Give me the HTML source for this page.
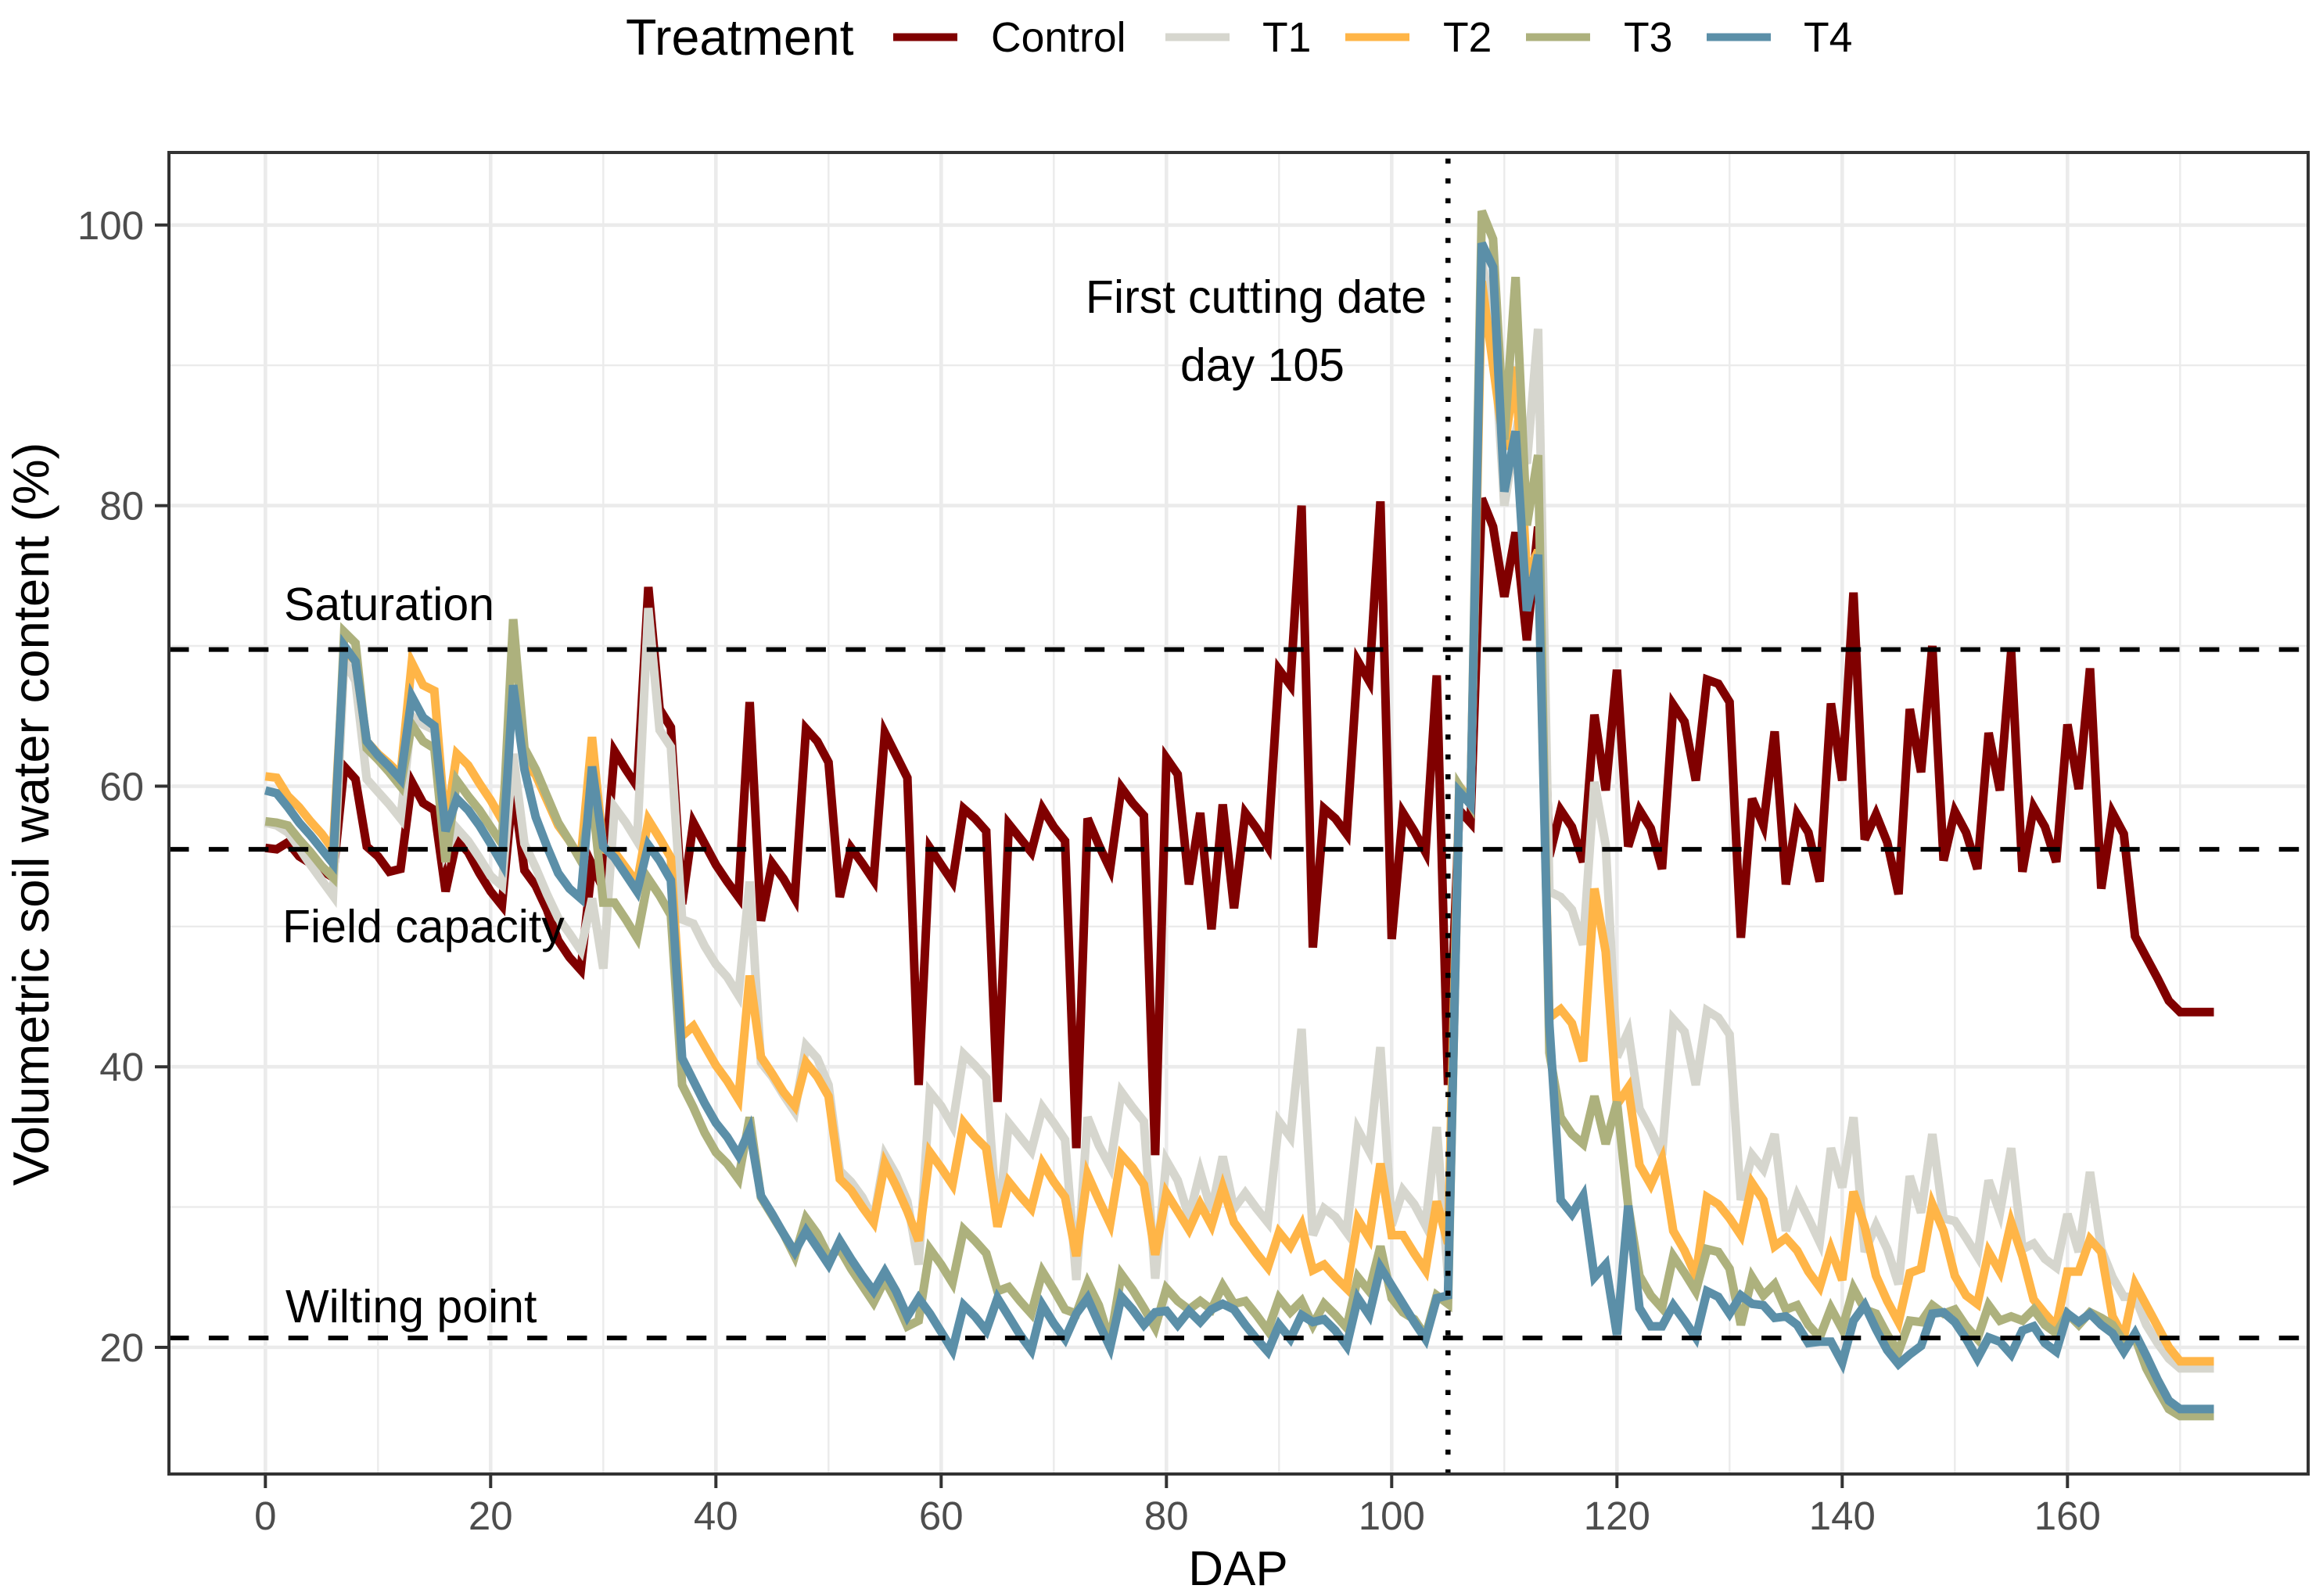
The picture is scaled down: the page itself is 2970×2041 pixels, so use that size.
<!DOCTYPE html>
<html lang="en">
<head>
<meta charset="utf-8">
<title>Volumetric soil water content by treatment</title>
<style>
  html, body { margin: 0; padding: 0; background: #ffffff; }
  svg { display: block; font-family: "Liberation Sans", Arial, sans-serif; }
</style>
</head>
<body>
<svg id="chart" xmlns="http://www.w3.org/2000/svg" width="2970" height="2041" viewBox="0 0 2970 2041">
  <rect x="0" y="0" width="2970" height="2041" fill="#ffffff"/>
  <g id="grid"></g>
  <g id="series"></g>
  <g id="refs"></g>
  <rect x="216" y="195" width="2735" height="1690" fill="none" stroke="#333333" stroke-width="4"/>
  <g id="ticks"></g>
  <text x="1583" y="2027" font-size="62" text-anchor="middle" fill="#000">DAP</text>
  <text transform="translate(62,1041) rotate(-90)" font-size="65.3" text-anchor="middle" fill="#000">Volumetric soil water content (%)</text>
  <text x="363" y="793" font-size="59" fill="#000">Saturation</text>
  <text x="361" y="1205" font-size="59" fill="#000">Field capacity</text>
  <text x="365" y="1691" font-size="59" fill="#000">Wilting point</text>
  <text x="1606" y="400" font-size="59" text-anchor="middle" fill="#000">First cutting date</text>
  <text x="1614" y="487" font-size="59" text-anchor="middle" fill="#000">day 105</text>
  <g id="legend">
    <text x="800" y="70" font-size="64.5" fill="#000">Treatment</text>
  </g>
</svg>
<script>
const treatments = ["Control", "T1", "T2", "T3", "T4"];
const colors = ["#800000", "#D6D6CE", "#FFB547", "#ADB17D", "#5B8FA8"];
const xMajorTicks = [0, 20, 40, 60, 80, 100, 120, 140, 160];
const xMinorTicks = [10, 30, 50, 70, 90, 110, 130, 150, 170];
const yMajorTicks = [20, 40, 60, 80, 100];
const yMinorTicks = [30, 50, 70, 90];
const thresholds = [69.74, 55.5, 20.67];
const cutDay = 105;

const control = [
55.6,55.5,56,55,54.5,54,53.5,61.4,60.5,55.7,
55,53.9,54.1,60.3,58.8,58.3,52.5,56.2,55.3,53.8,
52.5,51.5,60,54,52.9,51.2,49,47.8,46.9,54.4,
52.7,62.5,61.2,60,74.2,65.5,64.2,51.6,57.4,55.9,
54.4,53.2,52.1,66,50.4,54.5,53.4,52,64.1,63.2,
61.7,52.1,55.6,54.5,53.3,63.8,62.2,60.6,38.7,55.6,
54.4,53.2,58.4,57.7,56.8,37.5,57.3,56.3,55.3,58.4,
57.1,56.1,34.2,57.7,55.8,54.1,59.9,58.8,57.9,33.7,
62,60.85,53,58.1,49.8,58.7,51.3,58.1,57,55.7,
68.3,67.2,80,48.5,58.4,57.7,56.6,68.9,67.5,80.3,
49.1,58.1,56.8,55.3,67.9,38.7,58.3,57.4,80.5,78.5,
73.5,78.1,70.4,78.5,55,58.3,57.1,54.6,65.1,59.7,
68.3,55.7,58.3,57,54.1,65.8,64.6,60.4,67.6,67.3,
66,49.2,59.1,57.2,63.9,53,58,56.7,53.2,65.9,
60.4,73.8,56.2,58,56,52.3,65.5,61,70,54.7,
58.2,56.7,54.1,63.8,59.7,69.6,53.9,58.5,57.1,54.6,
64.4,59.8,68.4,52.7,58.1,56.6,49.3,47.8,46.3,44.7,
43.9,43.9,43.9,43.9];

const t1 = [
57.4,57.2,56.7,55.6,54.4,53.3,52.2,69,67.5,60.5,
59.6,58.7,57.7,65,64.4,64,55.3,57,56.1,54.9,
53.6,52.9,62.3,55.9,54.2,52.3,50.6,49.5,48.3,52,
47,58.5,57.4,56.1,72.7,64,62.8,50.5,50.2,48.6,
47.3,46.4,45.1,53.2,40.3,39.3,38,36.8,41.5,40.6,
38.7,32.6,31.8,30.7,29.1,33.7,32.3,30.4,25.9,38.2,
37.2,35.8,40.9,40.1,39.2,28.6,36,35,34,37.1,
36,34.8,24.8,36.4,34.4,32.9,38.2,37.1,36.1,24.9,
33.3,31.9,29.3,32.5,29.7,33.6,29.9,31,29.9,28.9,
36.1,35,42.7,28,29.9,29.3,28.2,35.5,34,41.4,
28.7,31.2,30.2,28.7,35.7,25,60,59,97.5,93,
80,85,83,92.6,52.5,52.1,51.2,48.7,60.3,55.8,
40.7,42.5,37,35.5,33.7,43.4,42.5,38.7,44,43.5,
42.3,30.5,33.7,32.7,35.2,28.3,30.8,29.2,27.5,34.2,
31.4,36.4,26.8,28.7,27,24.5,32.2,29.6,35.2,29.2,
29,27.8,26.5,31.9,29.6,34.2,27,27.4,26.3,25.7,
29.5,26.8,32.5,27,25,23.6,23.6,21.6,20.3,19.2,
18.5,18.5,18.5,18.5];

const t2 = [
60.7,60.6,59.3,58.5,57.5,56.6,55.5,69.8,68.9,63.2,
62.3,61.6,60.8,68.8,67.2,66.8,57,62.3,61.5,60.2,
59,57.6,67,61.7,60.8,59,57.2,56.1,54.8,63.5,
55.5,55.3,54.2,53.1,57.6,56.3,54.9,42.2,42.9,41.5,
40.1,39,37.7,46.5,40.7,39.5,38.2,37.2,40.3,39.3,
37.9,32,31.2,30,28.9,33.1,31.5,29.7,27.6,33.9,
32.8,31.6,36,35,34.2,28.6,31.8,30.8,29.9,33.1,
31.8,30.7,26.5,32.3,30.5,28.8,33.7,32.8,31.6,26.6,
31,29.7,28.4,30.2,28.7,31.4,28.9,27.8,26.7,25.7,
28.2,27.2,28.7,25.5,25.9,25,24.2,29.1,27.8,33.1,
28,28,26.7,25.5,30.4,27.4,60,59,96,90,
84,89.9,75,76.8,43.5,44.1,43.1,40.4,52.7,48.2,
37.3,38.5,33,31.6,33.4,28.3,26.9,25.1,30.7,30.2,
29.2,28,31.7,30.5,27.2,27.8,26.9,25.4,24.3,27,
24.8,31.1,28.6,25.1,23.3,21.8,25.3,25.6,30.2,28.3,
25.1,23.7,23.1,26.8,25.4,28.9,26.5,23.4,22.4,21.5,
25.4,25.4,27.7,26.8,22.2,20.7,24.5,23,21.5,20,
19,19,19,19];

const t3 = [
57.5,57.4,57.2,56.2,55.3,54.3,53.5,71,70.2,62.7,
61.9,61,60,64.4,63.2,62.7,54.6,60.4,59.3,58.3,
57.1,55.9,71.9,62.7,61.2,59.3,57.4,56.1,54.7,59.3,
51.7,51.7,50.5,49.2,53.4,52.2,50.8,38.7,37.1,35.3,
33.9,33.1,32,36.4,30.7,29.4,28.1,26.5,29.2,28.1,
26.5,27,25.6,24.4,23.2,24.8,23.3,21.5,21.9,27,
25.9,24.6,28.4,27.6,26.7,24,24.3,23.3,22.4,25.4,
24.1,22.7,22.4,24.6,23,20.4,25.2,24.1,22.8,21.4,
24.2,23.3,22.7,23.3,22.7,24.4,23.1,23.3,22.3,21.2,
23.5,22.5,23.3,21.6,23.1,22.3,21.4,25,24,27.2,
23.5,22.5,22,20.8,23.7,23.1,60,58.7,101,99,
84.7,96.3,78.6,83.6,41,36.4,35.2,34.5,37.9,34.5,
37.5,30.1,25.1,23.7,22.8,26.5,25.3,24,27,26.8,
25.6,21.6,25,23.7,24.5,22.7,23,21.6,20.7,22.8,
21.3,24.2,22.7,22.4,20.9,19.7,21.9,21.8,23,22.4,
22.7,21.5,20.6,23,21.9,22.2,21.9,22.7,21.6,21,
22.4,21.6,22.5,22.1,21.6,20.4,20.7,18.5,17,15.6,
15.1,15.1,15.1,15.1];

const t4 = [
59.7,59.5,58.5,57.4,56.5,55.5,54.5,70,68.9,63.2,
62.2,61.4,60.5,66.4,64.9,64.3,56.8,59.1,58.3,57.2,
55.9,54.5,67.2,61.2,57.8,55.7,53.8,52.7,52,61.4,
55.7,54.9,53.7,52.5,55.8,54.7,53.3,40.6,39,37.4,
36,35,33.7,35.5,30.8,29.5,28.1,26.8,28.3,27.1,
25.9,27.6,26.3,25.1,24,25.4,24,22.2,23.5,22.4,
21.1,19.8,23,22.2,21.2,23.5,22.2,20.9,19.8,23,
21.7,20.6,22.4,23.5,21.7,20,23.6,22.7,21.6,22.5,
22.6,21.6,22.6,21.8,22.7,23.1,22.7,21.6,20.6,19.7,
21.6,20.6,22.3,21.8,22,21.2,20.1,23.5,22.3,25.7,
24.4,23.1,21.8,20.6,23.5,23.7,59.6,58.7,98.7,97,
81,85.3,72.5,76.5,43,30.5,29.5,30.8,25,25.9,
20.9,30.1,22.8,21.5,21.5,23,21.9,20.7,24,23.6,
22.4,23.7,23.1,23,22.1,22.2,21.6,20.3,20.4,20.4,
18.9,21.9,23,21.3,19.8,18.8,19.5,20.1,22.4,22.5,
21.8,20.6,19.2,20.7,20.4,19.5,21.2,21.5,20.3,19.7,
22.4,21.8,22.4,21.6,21,19.7,21,19.4,17.7,16.2,
15.6,15.6,15.6,15.6];

const seriesValues = [control, t1, t2, t3, t4];

const SVG_NS = "http://www.w3.org/2000/svg";
const panel = { left: 216, right: 2951, top: 195, bottom: 1885 };
function xScale(day) { return 339.3 + 14.4 * day; }
function yScale(value) { return 2081.8 - 17.94 * value; }

function addLine(parent, x1, y1, x2, y2, stroke, width) {
  const el = document.createElementNS(SVG_NS, "line");
  el.setAttribute("x1", x1);
  el.setAttribute("y1", y1);
  el.setAttribute("x2", x2);
  el.setAttribute("y2", y2);
  el.setAttribute("stroke", stroke);
  el.setAttribute("stroke-width", width);
  parent.appendChild(el);
  return el;
}
function addText(parent, x, y, str, size, fill, anchor) {
  const el = document.createElementNS(SVG_NS, "text");
  el.setAttribute("x", x);
  el.setAttribute("y", y);
  el.setAttribute("font-size", size);
  el.setAttribute("fill", fill);
  el.setAttribute("text-anchor", anchor);
  el.textContent = str;
  parent.appendChild(el);
  return el;
}

const gridG = document.getElementById("grid");
yMinorTicks.forEach(function (v) {
  const el = addLine(gridG, panel.left, yScale(v), panel.right, yScale(v), "#ebebeb", 2.4);
  
  
});
xMinorTicks.forEach(function (d) {
  const el = addLine(gridG, xScale(d), panel.top, xScale(d), panel.bottom, "#ebebeb", 2.4);
  
  
});
yMajorTicks.forEach(function (v) {
  const el = addLine(gridG, panel.left, yScale(v), panel.right, yScale(v), "#ebebeb", 4.6);
  
  
});
xMajorTicks.forEach(function (d) {
  const el = addLine(gridG, xScale(d), panel.top, xScale(d), panel.bottom, "#ebebeb", 4.6);
  
  
});

const seriesG = document.getElementById("series");
seriesValues.forEach(function (values, i) {
  const path = document.createElementNS(SVG_NS, "path");
  const d = values.map(function (v, day) {
    return (day === 0 ? "M" : "L") + xScale(day).toFixed(1) + " " + yScale(v).toFixed(1);
  }).join(" ");
  path.setAttribute("d", d);
  path.setAttribute("fill", "none");
  path.setAttribute("stroke", colors[i]);
  path.setAttribute("stroke-width", "11");
  path.setAttribute("stroke-linejoin", "miter");
  path.setAttribute("stroke-miterlimit", "4");
  
  
  seriesG.appendChild(path);
});

const refsG = document.getElementById("refs");
thresholds.forEach(function (v) {
  const el = addLine(refsG, panel.left, yScale(v), panel.right, yScale(v), "#000000", 6);
  el.setAttribute("stroke-dasharray", "25.5 25.4");
  
  
});
const cutLine = addLine(refsG, xScale(cutDay), panel.top, xScale(cutDay), panel.bottom, "#000000", 6.5);
cutLine.setAttribute("stroke-dasharray", "6.5 18.9");
cutLine.setAttribute("stroke-dashoffset", "-7.7");



const ticksG = document.getElementById("ticks");
xMajorTicks.forEach(function (d) {
  const tick = addLine(ticksG, xScale(d), panel.bottom, xScale(d), panel.bottom + 18, "#333333", 4);
  
  
  const label = addText(ticksG, xScale(d), 1956, String(d), 51, "#4d4d4d", "middle");
  
  
});
yMajorTicks.forEach(function (v) {
  const tick = addLine(ticksG, panel.left - 18, yScale(v), panel.left, yScale(v), "#333333", 4);
  
  
  const label = addText(ticksG, 184, yScale(v) + 18, String(v), 51, "#4d4d4d", "end");
  
  
});

const legendG = document.getElementById("legend");
const legendKeyStart = [1142, 1490, 1720, 1951, 2182];
const legendLabelStart = [1267, 1614, 1845, 2076, 2306];
treatments.forEach(function (name, i) {
  const key = addLine(legendG, legendKeyStart[i], 47.5, legendKeyStart[i] + 82, 47.5, colors[i], 10);
  
  
  const label = addText(legendG, legendLabelStart[i], 66, name, 53.5, "#000000", "start");
  
  
});
</script>
</body>
</html>
